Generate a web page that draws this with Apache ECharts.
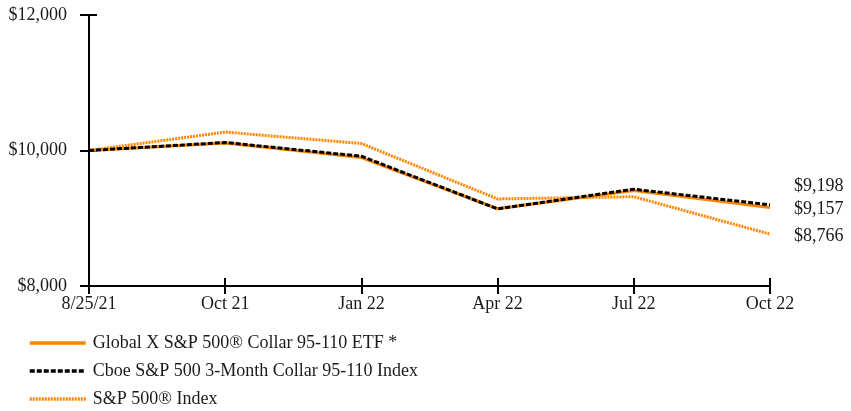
<!DOCTYPE html>
<html>
<head>
<meta charset="utf-8">
<script src="https://cdn.jsdelivr.net/npm/echarts@6/dist/echarts.min.js"></script>
<style>html,body{margin:0;padding:0;background:#fff}#c{width:851px;height:411px}</style>
</head>
<body>
<div id="c"></div>
<script>
const categories = ['8/25/21', 'Oct 21', 'Jan 22', 'Apr 22', 'Jul 22', 'Oct 22'];
const etfName = 'Global X S&P 500® Collar 95-110 ETF *';
const idxName = 'Cboe S&P 500 3-Month Collar 95-110 Index';
const spxName = 'S&P 500® Index';
const etfValues = [10000, 10110, 9895, 9140, 9410, 9157];
const idxValues = [10000, 10118, 9915, 9139, 9428, 9198];
const spxValues = [10000, 10272, 10103, 9285, 9318, 8766];
const yTicks = [8000, 10000, 12000];

const ORANGE = '#ff8500';
const TXT = '#1a1a1a';
const FONT = "'Liberation Serif', 'DejaVu Serif', serif";
const FS = 18;
const fmt = v => '$' + v.toLocaleString('en-US');

const chart = echarts.init(document.getElementById('c'), null, {renderer: 'canvas'});
function endLbl(dy) {
  return {show: true, formatter: p => fmt(p.value), distance: 24, offset: [0, dy],
    color: TXT, fontFamily: FONT, fontSize: FS};
}
chart.setOption({
  animation: false,
  textStyle: {fontFamily: FONT},
  grid: {left: 89, right: 81, top: 15, bottom: 125},
  legend: {
    orient: 'vertical', left: 28, top: 332, height: 79, padding: 0,
    itemWidth: 56, itemHeight: 14, itemGap: 6,
    data: [etfName, idxName, spxName],
    itemStyle: {opacity: 0, borderWidth: 0},
    lineStyle: {width: 3.5},
    textStyle: {fontFamily: FONT, fontSize: FS, lineHeight: 22, color: TXT, padding: [0, 0, 0, 2]}
  },
  xAxis: [{
    type: 'category', data: categories, boundaryGap: false,
    axisLine: {lineStyle: {color: '#000', width: 2}},
    axisTick: {show: true, length: 8, lineStyle: {color: '#000', width: 2}},
    axisLabel: {margin: 9, color: TXT, fontFamily: FONT, fontSize: FS}
  }, {
    type: 'category', data: categories, boundaryGap: false, position: 'bottom',
    axisLine: {show: false},
    axisTick: {show: true, inside: true, length: 8, lineStyle: {color: '#000', width: 2}},
    axisLabel: {show: false}
  }],
  yAxis: [{
    type: 'value', min: yTicks[0], max: yTicks[yTicks.length - 1], interval: 2000,
    splitLine: {show: false},
    axisLine: {show: true, lineStyle: {color: '#000', width: 2}},
    axisTick: {show: true, length: 9, lineStyle: {color: '#000', width: 2}},
    axisLabel: {margin: 22, formatter: v => fmt(v), color: TXT, fontFamily: FONT, fontSize: FS}
  }, {
    type: 'value', min: yTicks[0], max: yTicks[yTicks.length - 1], interval: 2000, position: 'left',
    splitLine: {show: false}, axisLine: {show: false},
    axisTick: {show: true, inside: true, length: 8, lineStyle: {color: '#000', width: 2}},
    axisLabel: {show: false}
  }],
  series: [{
    name: spxName, type: 'line', data: spxValues, symbol: 'none',
    lineStyle: {color: ORANGE, width: 3, type: [2, 1]}, itemStyle: {color: ORANGE},
    endLabel: endLbl(2)
  }, {
    name: etfName, type: 'line', data: etfValues, symbol: 'none',
    lineStyle: {color: ORANGE, width: 3}, itemStyle: {color: ORANGE},
    endLabel: endLbl(2)
  }, {
    name: idxName, type: 'line', data: idxValues, symbol: 'none',
    lineStyle: {color: '#000', width: 3, type: [5, 2]}, itemStyle: {color: '#000'},
    endLabel: endLbl(-19)
  }]
});
</script>
</body>
</html>
